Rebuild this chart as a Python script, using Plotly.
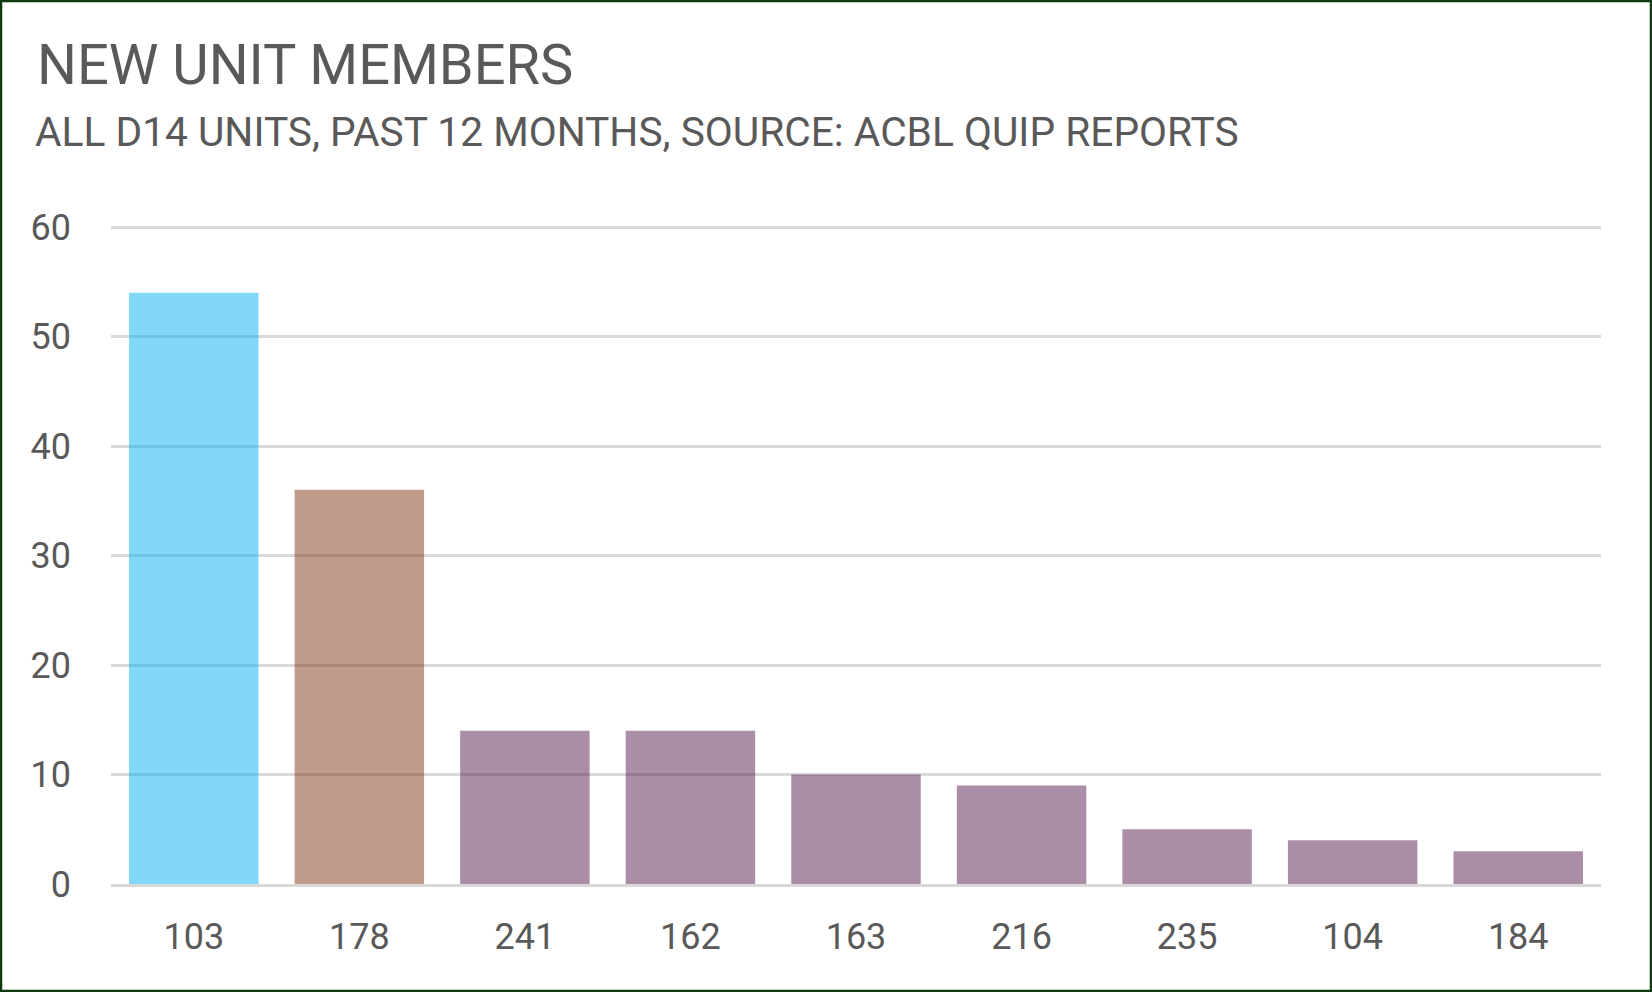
import plotly.graph_objects as go

# units and their new member counts (past 12 months)
units = ["103", "178", "241", "162", "163", "216", "235", "104", "184"]
new_members = [54, 36, 14, 14, 10, 9, 5, 4, 3]
bar_colors = ["rgba(0,176,240,0.49)", "rgba(131,53,17,0.49)"] + ["rgba(81,23,75,0.49)"] * 7

title_text = "NEW UNIT MEMBERS"
subtitle_text = "ALL D14 UNITS, PAST 12 MONTHS, SOURCE: ACBL QUIP REPORTS"

W, H = 1652, 992
ml, mr, mt, mb = 111, 51, 226, 108
pw, ph = W - ml - mr, H - mt - mb

fig = go.Figure(go.Bar(
    x=units,
    y=new_members,
    marker_color=bar_colors,
    marker_line_width=0,
    hoverinfo="x+y",
))

font_family = "Roboto"
text_color = "#595959"

fig.update_layout(
    width=W, height=H,
    margin=dict(l=ml, r=mr, t=mt, b=mb, pad=0),
    plot_bgcolor="white",
    paper_bgcolor="white",
    bargap=0.218,
    showlegend=False,
    font=dict(family=font_family, color=text_color),
)

fig.update_yaxes(
    range=[0, 60.1], tick0=0, dtick=10,
    showgrid=True, gridcolor="#D9D9D9", gridwidth=2.5,
    zeroline=False, showline=False,
    tickfont=dict(size=36, color=text_color),
    ticklabelstandoff=39,
    fixedrange=True,
)
fig.update_xaxes(
    showgrid=False, showline=True, linecolor="#D9D9D9", linewidth=2.5,
    tickfont=dict(size=36, color=text_color),
    ticklabelstandoff=19,
    fixedrange=True,
)

# titles placed relative to the plot area (pixels converted to paper units)
fig.add_annotation(
    text=title_text, xref="paper", yref="paper",
    x=(35 - ml) / pw, y=1 + (mt - 65) / ph,
    xanchor="left", yanchor="middle", showarrow=False,
    font=dict(size=56, family=font_family, color=text_color),
)
fig.add_annotation(
    text=subtitle_text, xref="paper", yref="paper",
    x=(33 - ml) / pw, y=1 + (mt - 132) / ph,
    xanchor="left", yanchor="middle", showarrow=False,
    font=dict(size=40.7, family=font_family, color=text_color),
)

# dark green frame around the chart
fig.add_shape(
    type="rect", xref="paper", yref="paper",
    x0=(1 - ml) / pw, x1=(W - 1 - ml) / pw,
    y0=-(mb - 1) / ph, y1=1 + (mt - 1) / ph,
    line=dict(color="#0E3A12", width=2.5),
    fillcolor="rgba(0,0,0,0)", layer="above",
)

fig.write_html("out.html", config={"displayModeBar": False},
               post_script="document.body.style.margin='0';")
